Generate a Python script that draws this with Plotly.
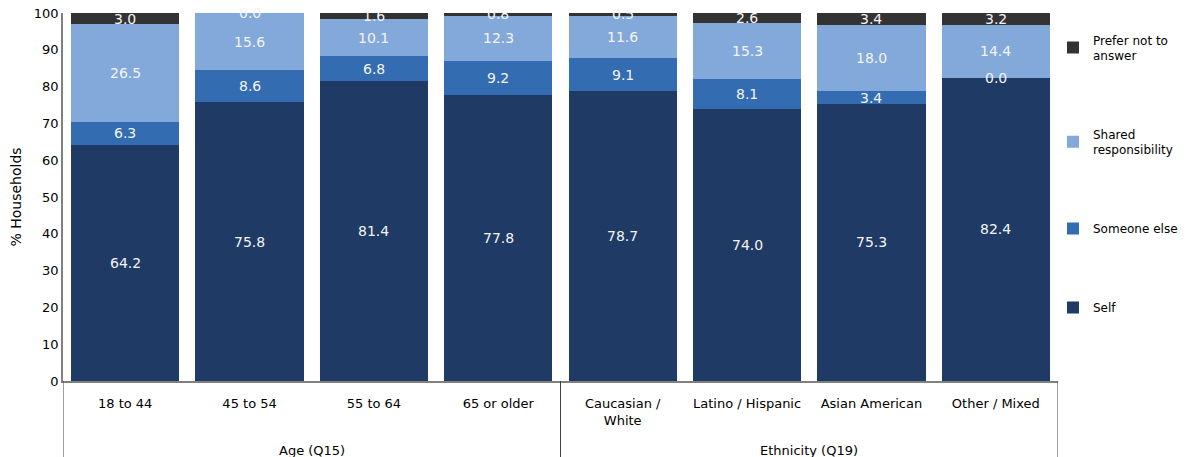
import plotly.graph_objects as go

group_names = ["Age (Q15)", "Ethnicity (Q19)"]
group_sizes = [4, 4]
categories = ["18 to 44", "45 to 54", "55 to 64", "65 or older",
              "Caucasian /<br>White", "Latino / Hispanic", "Asian American", "Other / Mixed"]
self_vals = [64.2, 75.8, 81.4, 77.8, 78.7, 74.0, 75.3, 82.4]
someone_vals = [6.3, 8.6, 6.8, 9.2, 9.1, 8.1, 3.4, 0.0]
shared_vals = [26.5, 15.6, 10.1, 12.3, 11.6, 15.3, 18.0, 14.4]
prefer_vals = [3.0, 0.0, 1.6, 0.8, 0.5, 2.6, 3.4, 3.2]

series = [
    ("Self", self_vals, "#1F3B65"),
    ("Someone else", someone_vals, "#336CB1"),
    ("Shared<br>responsibility", shared_vals, "#82A9DA"),
    ("Prefer not to<br>answer", prefer_vals, "#333333"),
]

FONT = "DejaVu Sans"
W, H = 1190, 457
ML, MR, MT, MB = 63, 10, 13, 76
PLOT_RIGHT = 1058
dom_right = (PLOT_RIGHT - ML) / (W - ML - MR)

fig = go.Figure()
base = [0.0] * len(categories)
annotations = []
n = len(series)
for i, (name, vals, color) in enumerate(series):
    fig.add_trace(go.Bar(
        x=categories, y=vals, name=name, marker_color=color,
        marker_line_width=0, legendgroup=f"g{i}", legendrank=n - i,
    ))
    for j, v in enumerate(vals):
        annotations.append(dict(
            x=j, y=base[j] + v / 2, xref="x", yref="y",
            text=f"{v:.1f}", showarrow=False,
            font=dict(family=FONT, size=14, color="#F4F4F4"),
        ))
        base[j] += v

# group labels and divider lines below the axis
shapes = []
start = 0
bounds = [-0.5]
for gname, size in zip(group_names, group_sizes):
    center = start + (size - 1) / 2
    annotations.append(dict(
        x=center, y=-0.19, xref="x", yref="paper", yanchor="middle",
        text=gname, showarrow=False, font=dict(family=FONT, size=13, color="black"),
    ))
    start += size
    bounds.append(start - 0.5)
for b in bounds:
    shapes.append(dict(
        type="line", xref="x", yref="paper", x0=b, x1=b, y0=0, y1=-0.25,
        line=dict(color="#404040", width=1),
    ))

fig.update_layout(
    barmode="stack",
    bargap=0.13,
    width=W, height=H,
    margin=dict(l=ML, r=MR, t=MT, b=MB, autoexpand=False),
    plot_bgcolor="white", paper_bgcolor="white",
    font=dict(family=FONT, size=13, color="#000000"),
    annotations=annotations,
    shapes=shapes,
    showlegend=True,
    legend=dict(
        x=(1053 - ML) / (W - ML - MR), y=0.966, xanchor="left", yanchor="top",
        traceorder="grouped", tracegroupgap=60,
        font=dict(family=FONT, size=12),
        itemwidth=30,
    ),
    yaxis=dict(
        range=[0, 100], dtick=10, showgrid=False, automargin=False,
        showline=True, linecolor="#808080", linewidth=1.5,
        ticks="", ticklen=0,
        title=dict(text="% Households", font=dict(size=14), standoff=9),
        tickfont=dict(size=13),
    ),
    xaxis=dict(
        range=[-0.5, 7.5], domain=[0, dom_right], automargin=False,
        showline=True, linecolor="#808080", linewidth=1.5,
        ticks="", tickfont=dict(size=13), ticklabelstandoff=10,
    ),
)

fig.write_html("out.html")
